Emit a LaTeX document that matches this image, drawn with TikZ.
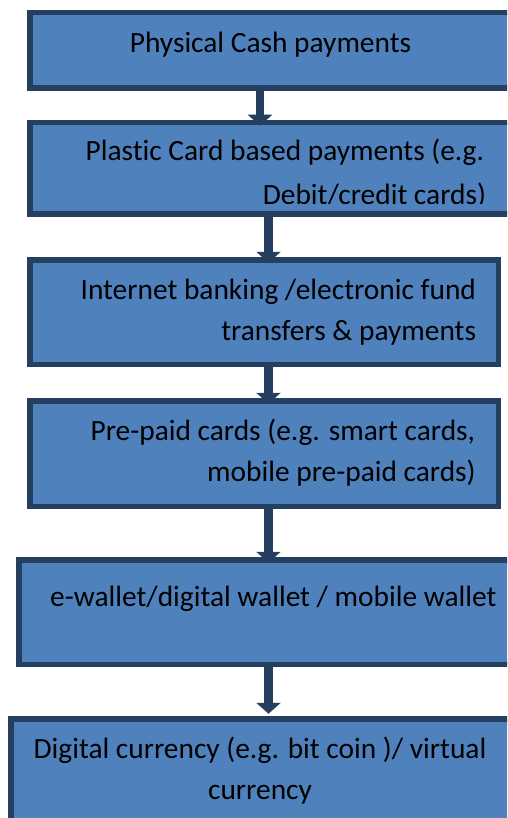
\documentclass[tikz,border=0pt]{standalone}
\usepackage{fontspec}
\setmainfont{Carlito}[Ligatures=NoCommon]
\usetikzlibrary{arrows.meta}
\definecolor{boxfill}{HTML}{4F81BD}
\definecolor{boxline}{HTML}{243F60}
\begin{document}
\begin{tikzpicture}[x=1pt,y=-1pt,
  stagebox/.style={draw=boxline,fill=boxfill,line width=5.5pt,rectangle,
    inner sep=0pt,outer sep=0pt,anchor=north west},
  txt/.style={inner sep=0pt,outer sep=0pt,font=\fontsize{29.4}{35}\selectfont,text=black},
  flow/.style={draw=boxline,line width=8.5pt,-{Triangle[width=24pt,length=11pt]}}]
\useasboundingbox (0,0) rectangle (507,818);
\clip (0,0) rectangle (507,818);
% boxes
\node[stagebox,minimum width=487.5pt,minimum height=75.5pt] (b1) at (29.75,12.75) {};
\node[stagebox,minimum width=487.5pt,minimum height=91.5pt] (b2) at (29.75,122.75) {};
\node[stagebox,minimum width=468.5pt,minimum height=104.5pt] (b3) at (29.75,259.75) {};
\node[stagebox,minimum width=468.5pt,minimum height=105.5pt] (b4) at (29.75,400.75) {};
\node[stagebox,minimum width=498.5pt,minimum height=104.5pt] (b5) at (18.75,559.75) {};
\node[stagebox,minimum width=504.5pt,minimum height=116.5pt] (b6) at (10.75,718.75) {};
% texts
\node[txt,anchor=base] (t1) at (270.5,52.5) {Physical Cash payments};
\node[txt,anchor=base east] (t2a) at (484,161) {Plastic Card based payments (e.g.};
\begin{scope}
\clip (0,0) rectangle (507,203.5);
\node[txt,anchor=base east] (t2b) at (486,204.5) {Debit/credit cards)};
\end{scope}
\node[txt,anchor=base east] (t3a) at (476,299.3) {Internet banking /electronic fund};
\node[txt,anchor=base east] (t3b) at (476,340) {transfers \& payments};
\node[txt,anchor=base east] (t4a) at (475,440.7) {Pre-paid cards (e.g. smart cards,};
\node[txt,anchor=base east] (t4b) at (475.7,481.7) {mobile pre-paid cards)};
\node[txt,anchor=base] (t5) at (273.4,606) {e-wallet/digital wallet / mobile wallet};
\node[txt,anchor=base] (t6a) at (260,758.3) {Digital currency (e.g. bit coin )/ virtual};
\node[txt,anchor=base] (t6b) at (260,799.3) {currency};
% arrows
\coordinate (xa) at (260,0);
\coordinate (xb) at (268.5,0);
\draw[flow] (b1.south -| xa) -- ([yshift=-3pt]b2.north -| xa);
\draw[flow] (b2.south -| xb) -- ([yshift=-3pt]b3.north -| xb);
\draw[flow] (b3.south -| xb) -- ([yshift=-3pt]b4.north -| xb);
\draw[flow] (b4.south -| xb) -- ([yshift=-3pt]b5.north -| xb);
\draw[flow] (b5.south -| xb) -- ([yshift=5pt]b6.north -| xb);
\end{tikzpicture}
\end{document}
